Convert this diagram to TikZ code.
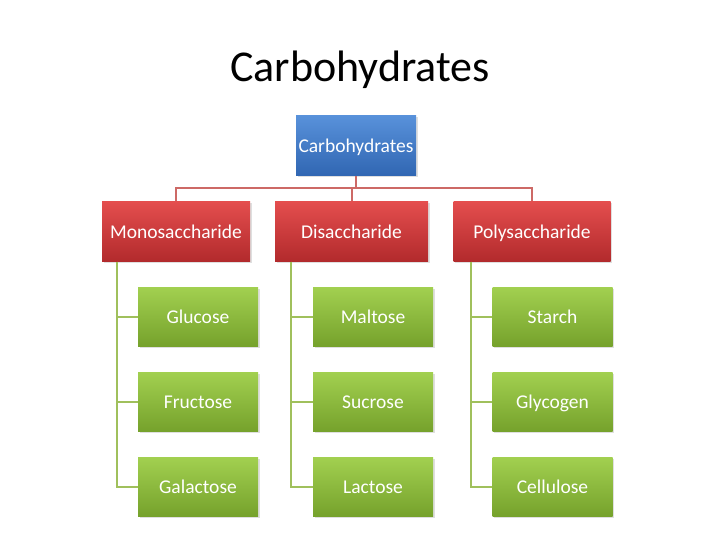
\documentclass[tikz,border=0pt]{standalone}
\usepackage{fontspec}
\setmainfont{Carlito}
\usetikzlibrary{shadows}
\definecolor{blueup}{RGB}{88, 145, 218}
\definecolor{bluedown}{RGB}{48, 102, 178}
\definecolor{redup}{RGB}{228, 78, 78}
\definecolor{reddown}{RGB}{178, 42, 44}
\definecolor{greenup}{RGB}{162, 208, 80}
\definecolor{greendown}{RGB}{118, 162, 44}
\definecolor{redline}{RGB}{205, 105, 102}
\definecolor{greenline}{RGB}{160, 192, 92}

\begin{document}
\begin{tikzpicture}[x=1pt, y=-1pt,
    box/.style={inner sep=0pt, text=white, font=\fontsize{19.5}{21}\selectfont,
      text height=15pt, text depth=1pt,
      minimum height=60pt, drop shadow={opacity=0.25, shadow xshift=1.5pt, shadow yshift=-1.5pt}},
    topbox/.style={box, minimum width=120pt, top color=blueup, bottom color=bluedown},
    groupbox/.style={box, top color=redup, bottom color=reddown},
    leafbox/.style={box, minimum width=120pt, minimum height=59pt, top color=greenup, bottom color=greendown},
    redlink/.style={draw=redline, line width=2pt},
    greenlink/.style={draw=greenline, line width=2pt}]
  \useasboundingbox (0,0) rectangle (720,540);

  \node[anchor=base, font=\fontsize{44}{50}\selectfont] (title) at (360, 82) {Carbohydrates};

  % top level
  \node[topbox] (carb) at (356, 146) {Carbohydrates};

  % groups
  \node[groupbox, minimum width=148pt] (mono) at (176, 231.5) {Monosaccharide};
  \node[groupbox, minimum width=153pt] (di) at (351.5, 231.5) {Disaccharide};
  \node[groupbox, minimum width=157pt] (poly) at (532, 231.5) {Polysaccharide};

  % sugars
  \node[leafbox] (glu) at (198, 316.5) {Glucose};
  \node[leafbox] (fru) at (198, 401.5) {Fructose};
  \node[leafbox] (gal) at (198, 486.5) {Galactose};
  \node[leafbox] (mal) at (373, 316.5) {Maltose};
  \node[leafbox] (suc) at (373, 401.5) {Sucrose};
  \node[leafbox] (lac) at (373, 486.5) {Lactose};
  \node[leafbox] (sta) at (552.5, 316.5) {Starch};
  \node[leafbox] (gly) at (552.5, 401.5) {Glycogen};
  \node[leafbox] (cel) at (552.5, 486.5) {Cellulose};

  % connectors
  \coordinate (bus) at (356, 188);
  \draw[redlink] (carb.south) -- (bus);
  \draw[redlink] (bus) -| (mono.north);
  \draw[redlink] (bus) -| (di.north);
  \draw[redlink] (bus) -| (poly.north);

  \draw[greenlink] ([xshift=15pt]mono.south west) |- (glu.west);
  \draw[greenlink] ([xshift=15pt]mono.south west) |- (fru.west);
  \draw[greenlink] ([xshift=15pt]mono.south west) |- (gal.west);
  \draw[greenlink] ([xshift=16pt]di.south west) |- (mal.west);
  \draw[greenlink] ([xshift=16pt]di.south west) |- (suc.west);
  \draw[greenlink] ([xshift=16pt]di.south west) |- (lac.west);
  \draw[greenlink] ([xshift=18pt]poly.south west) |- (sta.west);
  \draw[greenlink] ([xshift=18pt]poly.south west) |- (gly.west);
  \draw[greenlink] ([xshift=18pt]poly.south west) |- (cel.west);
\end{tikzpicture}
\end{document}
